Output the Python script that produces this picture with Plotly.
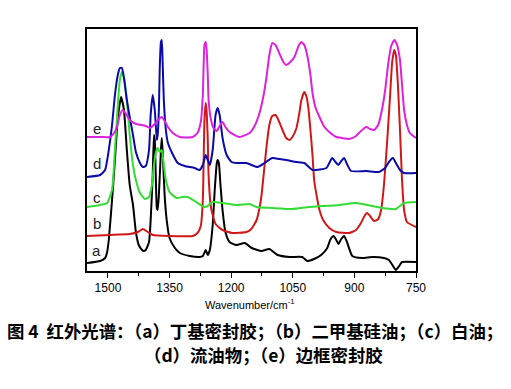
import plotly.graph_objects as go

# Wavenumber (cm^-1) and intensity (arbitrary units, offset stacked)
a_wn = [1551, 1519, 1507, 1502, 1498, 1490, 1483, 1476, 1468, 1461, 1454, 1447, 1439, 1432, 1425, 1417, 1413, 1408, 1400, 1396,
        1391, 1388, 1386, 1383, 1381, 1379, 1376, 1371, 1369, 1367, 1362, 1357, 1350, 1337, 1325, 1301, 1277, 1269, 1262, 1257,
        1252, 1245, 1240, 1235, 1233, 1230, 1226, 1221, 1214, 1204, 1187, 1167, 1150, 1126, 1107, 1087, 1058, 1027, 1015, 998,
        981, 966, 959, 951, 944, 939, 932, 925, 918, 905, 881, 857, 828, 816, 806, 799, 791, 784, 750]
a_int = [0.08, 0.10, 0.13, 0.19, 0.31, 0.71, 1.11, 1.53, 1.74, 1.61, 1.21, 0.86, 0.66, 0.39, 0.26, 0.21, 0.20, 0.21, 0.29, 0.51,
         0.96, 1.36, 1.31, 0.86, 0.63, 0.61, 0.76, 1.21, 1.33, 1.21, 0.76, 0.51, 0.33, 0.23, 0.18, 0.15, 0.14, 0.15, 0.21, 0.16,
         0.21, 0.46, 0.81, 1.08, 1.11, 1.08, 0.86, 0.61, 0.39, 0.29, 0.26, 0.28, 0.23, 0.20, 0.22, 0.16, 0.14, 0.14, 0.10, 0.12,
         0.16, 0.23, 0.31, 0.35, 0.31, 0.27, 0.32, 0.35, 0.29, 0.15, 0.13, 0.14, 0.13, 0.11, 0.05, 0.01, 0.05, 0.09, 0.09]

b_wn = [1551, 1495, 1447, 1427, 1415, 1403, 1391, 1350, 1294, 1282, 1274, 1269, 1267, 1265, 1262, 1260, 1257, 1255, 1250, 1245,
        1238, 1221, 1197, 1163, 1151, 1138, 1131, 1126, 1121, 1114, 1107, 1100, 1092, 1085, 1075, 1066, 1058, 1051, 1041, 1034,
        1029, 1022, 1017, 1012, 1007, 1002, 998, 990, 985, 976, 961, 944, 913, 896, 884, 874, 869, 862, 852, 842,
        835, 828, 820, 813, 808, 803, 799, 794, 789, 784, 779, 772, 750]
b_int = [0.35, 0.36, 0.37, 0.39, 0.42, 0.39, 0.36, 0.35, 0.35, 0.38, 0.45, 0.71, 1.11, 1.51, 1.68, 1.61, 1.31, 0.96, 0.66, 0.56,
         0.47, 0.41, 0.38, 0.39, 0.42, 0.51, 0.63, 0.76, 0.96, 1.24, 1.46, 1.55, 1.56, 1.51, 1.41, 1.33, 1.31, 1.34, 1.43, 1.58,
         1.71, 1.79, 1.75, 1.63, 1.41, 1.16, 0.91, 0.71, 0.61, 0.51, 0.43, 0.39, 0.38, 0.41, 0.48, 0.56, 0.58, 0.55, 0.50, 0.52,
         0.61, 0.86, 1.31, 1.76, 2.09, 2.21, 2.16, 1.86, 1.41, 0.91, 0.61, 0.49, 0.44]

c_wn = [1551, 1519, 1502, 1490, 1483, 1476, 1471, 1466, 1461, 1454, 1447, 1439, 1432, 1422, 1410, 1400, 1393, 1388, 1383, 1379,
        1374, 1369, 1364, 1359, 1350, 1333, 1318, 1306, 1289, 1265, 1257, 1245, 1187, 1155, 1138, 1100, 1051, 1010, 937, 896,
        833, 799, 779, 750]
c_int = [0.64, 0.66, 0.68, 0.81, 1.21, 1.66, 1.91, 1.99, 1.93, 1.71, 1.36, 1.06, 0.91, 0.78, 0.72, 0.74, 0.86, 1.06, 1.19, 1.23,
         1.19, 1.21, 1.06, 0.91, 0.79, 0.73, 0.74, 0.74, 0.70, 0.64, 0.65, 0.69, 0.66, 0.67, 0.64, 0.63, 0.62, 0.64, 0.66, 0.68,
         0.63, 0.62, 0.68, 0.69]

d_wn = [1551, 1519, 1507, 1498, 1490, 1483, 1476, 1471, 1466, 1461, 1454, 1447, 1439, 1432, 1422, 1415, 1408, 1400, 1396, 1391,
        1386, 1381, 1379, 1376, 1374, 1371, 1369, 1367, 1364, 1359, 1354, 1345, 1330, 1313, 1289, 1277, 1269, 1262, 1257, 1252,
        1245, 1238, 1233, 1228, 1221, 1211, 1199, 1187, 1163, 1136, 1119, 1100, 1083, 1066, 1041, 1022, 1002, 968, 961, 954,
        946, 939, 932, 925, 918, 908, 871, 840, 825, 816, 806, 799, 789, 779, 750]
d_int = [0.94, 0.96, 1.01, 1.21, 1.46, 1.76, 1.96, 2.03, 2.03, 1.93, 1.71, 1.54, 1.36, 1.19, 1.08, 1.04, 1.05, 1.21, 1.56, 1.76,
         1.61, 1.31, 1.36, 1.61, 2.01, 2.29, 2.31, 2.11, 1.71, 1.41, 1.28, 1.19, 1.08, 1.05, 1.03, 1.01, 1.06, 1.16, 1.11, 1.06,
         1.21, 1.56, 1.63, 1.56, 1.33, 1.16, 1.09, 1.08, 1.08, 1.04, 1.08, 1.13, 1.12, 1.11, 1.09, 1.08, 1.01, 1.03, 1.08, 1.13,
         1.09, 1.06, 1.10, 1.13, 1.07, 1.00, 1.00, 0.99, 1.03, 1.09, 1.13, 1.08, 1.01, 0.98, 0.98]

e_wn = [1551, 1519, 1495, 1485, 1478, 1471, 1464, 1456, 1447, 1432, 1417, 1408, 1398, 1386, 1376, 1369, 1362, 1354, 1342, 1325,
        1294, 1282, 1274, 1269, 1267, 1265, 1262, 1260, 1257, 1255, 1250, 1243, 1235, 1228, 1221, 1214, 1204, 1180, 1155, 1143,
        1131, 1121, 1114, 1107, 1100, 1092, 1083, 1073, 1066, 1056, 1046, 1036, 1029, 1022, 1015, 1007, 1002, 995, 985, 973,
        961, 944, 930, 913, 896, 884, 871, 862, 852, 842, 833, 825, 818, 811, 803, 796, 789, 784, 779, 772, 765, 750]
e_int = [1.34, 1.34, 1.34, 1.38, 1.44, 1.56, 1.61, 1.57, 1.51, 1.47, 1.46, 1.45, 1.43, 1.47, 1.52, 1.54, 1.50, 1.44, 1.38, 1.34,
         1.34, 1.38, 1.49, 1.76, 2.06, 2.26, 2.29, 2.23, 1.96, 1.71, 1.53, 1.43, 1.40, 1.45, 1.49, 1.44, 1.39, 1.34, 1.38, 1.45,
         1.58, 1.76, 1.94, 2.16, 2.28, 2.26, 2.18, 2.09, 2.06, 2.09, 2.14, 2.25, 2.29, 2.26, 2.16, 1.96, 1.78, 1.64, 1.54, 1.44,
         1.39, 1.34, 1.33, 1.32, 1.35, 1.40, 1.44, 1.42, 1.41, 1.46, 1.61, 1.81, 2.06, 2.24, 2.31, 2.26, 2.11, 1.86, 1.61, 1.46,
         1.38, 1.33]

series_names = ["a", "b", "c", "d", "e"]
label_pos_int = [0.21, 0.48, 0.74, 1.08, 1.43]
label_pos_wn = 1527
colors = ["#000000", "#d01818", "#33dd33", "#0a0aa8", "#dd22dd"]
x_ticks = [1500, 1350, 1200, 1050, 900, 750]
x_title = "Wavenumber/cm<sup>-1</sup>"
caption1 = "<b>图 4  红外光谱：（a）丁基密封胶；（b）二甲基硅油；（c）白油；</b>"
caption2 = "<b>（d）流油物；（e）边框密封胶</b>"

data = [(a_wn, a_int), (b_wn, b_int), (c_wn, c_int), (d_wn, d_int), (e_wn, e_int)]

fig = go.Figure()
for (wn, it), name, col in zip(data, series_names, colors):
    fig.add_trace(go.Scatter(x=wn, y=it, mode="lines", name=name,
                             line=dict(color=col, width=2, shape="spline", smoothing=0.5),
                             showlegend=False, hoverinfo="skip"))

for name, yv in zip(series_names, label_pos_int):
    fig.add_annotation(x=label_pos_wn, y=yv, xref="x", yref="y", text=name, showarrow=False,
                       font=dict(family="Liberation Sans, Arial", size=15, color="#222222"))

fig.add_annotation(x=0.495, y=-0.136, xref="paper", yref="paper", text=x_title, showarrow=False,
                   xanchor="center", yanchor="middle",
                   font=dict(family="Liberation Sans, Arial", size=11, color="#000000"))
fig.add_annotation(x=0.511, y=-0.244, xref="paper", yref="paper", text=caption1, showarrow=False,
                   xanchor="center", yanchor="middle",
                   font=dict(family="Noto Sans CJK SC", size=17.4, color="#000000"))
fig.add_annotation(x=0.535, y=-0.347, xref="paper", yref="paper", text=caption2, showarrow=False,
                   xanchor="center", yanchor="middle",
                   font=dict(family="Noto Sans CJK SC", size=17.4, color="#000000"))

fig.update_layout(
    width=503, height=381,
    margin=dict(l=79, r=95, t=21, b=118),
    paper_bgcolor="white", plot_bgcolor="white",
    xaxis=dict(range=[1551, 750], tickvals=x_ticks, ticks="outside", ticklen=5, tickwidth=1,
               tickcolor="black", showline=True, linecolor="black", linewidth=1.5, mirror=True,
               showgrid=False, zeroline=False,
               tickfont=dict(family="Liberation Sans, Arial", size=12, color="#000000"),
               minor=dict(dtick=75, tick0=750, ticks="outside", ticklen=3, tickcolor="black", showgrid=False)),
    yaxis=dict(range=[0, 2.42], showticklabels=False, ticks="", showline=True, linecolor="black",
               linewidth=1.5, mirror=True, showgrid=False, zeroline=False),
)

fig.write_html("out.html")
